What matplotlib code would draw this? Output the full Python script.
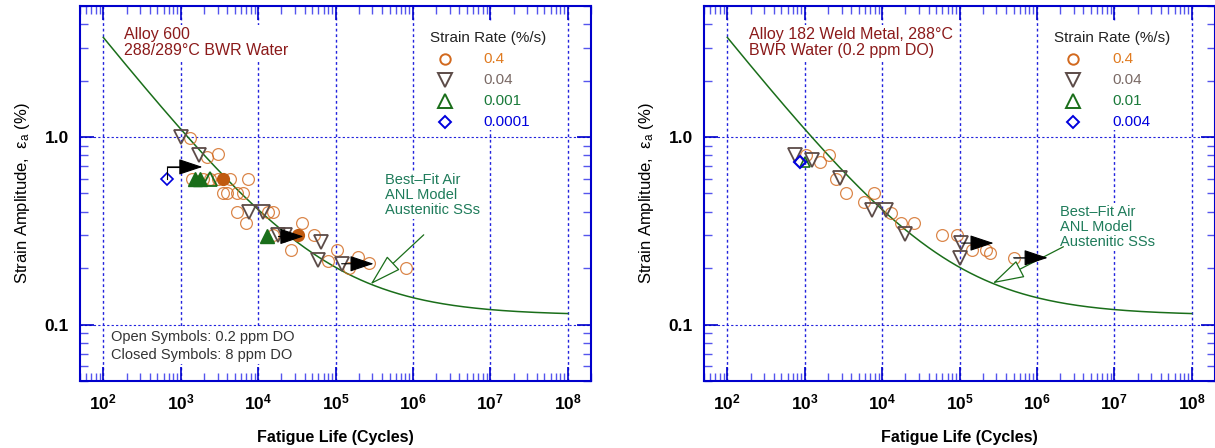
import numpy as np
import matplotlib
matplotlib.use("Agg")
import matplotlib.pyplot as plt
from matplotlib.patches import Rectangle
from matplotlib.ticker import FixedLocator, FixedFormatter, NullFormatter

plt.rcParams['font.family'] = ['Liberation Sans', 'DejaVu Sans']
plt.rcParams['mathtext.fontset'] = 'custom'
plt.rcParams['mathtext.rm'] = 'Liberation Sans'
plt.rcParams['mathtext.it'] = 'Liberation Sans:italic'
plt.rcParams['mathtext.bf'] = 'Liberation Sans:bold'

# --- ANL model, austenitic SSs in air: ln(N) = A - B ln(ea - C) ---
ANL_A, ANL_B, ANL_C = 6.891, 1.920, 0.112

# --- Alloy 600 (left panel) ---
a600_r04_open_N = [1334, 2213, 3076, 1416, 1967, 2422, 3076, 4395, 7300, 3567, 4018, 5410, 6470,
                   5410, 13600, 15360, 7080, 36400, 15800, 26300, 52100, 79000, 106000,
                   148000, 195000, 270000, 807000]
a600_r04_open_e = [0.99, 0.78, 0.81, 0.60, 0.60, 0.60, 0.60, 0.60, 0.60, 0.50, 0.50, 0.50, 0.50,
                   0.40, 0.40, 0.40, 0.35, 0.35, 0.30, 0.25, 0.30, 0.217, 0.25,
                   0.20, 0.23, 0.214, 0.20]
a600_r04_closed_N = [3470, 32400]
a600_r04_closed_e = [0.60, 0.30]
a600_r004_N = [1000, 1746, 7520, 11400, 18300, 22000, 64100, 60000, 120000]
a600_r004_e = [1.0, 0.80, 0.40, 0.40, 0.30, 0.30, 0.276, 0.222, 0.211]
a600_r0001_open_N = [2420]
a600_r0001_open_e = [0.60]
a600_r0001_closed_N = [1550, 1800, 13200]
a600_r0001_closed_e = [0.60, 0.60, 0.297]
a600_r00001_N = [673]
a600_r00001_e = [0.598]
# runouts: (start N, start e, tip N, tip e)
a600_runouts = [(673, 0.693, 1910, 0.693), (18300, 0.295, 38600, 0.295),
                (120000, 0.211, 311000, 0.211)]

# --- Alloy 182 weld metal (right panel) ---
a182_r04_N = [1050, 1590, 2030, 2500, 3370, 7750, 5920, 13200, 17300, 25500, 58600, 91800,
              144000, 218000, 246000, 500000]
a182_r04_e = [0.80, 0.74, 0.80, 0.60, 0.504, 0.50, 0.451, 0.394, 0.35, 0.35, 0.30, 0.30,
              0.25, 0.25, 0.24, 0.227]
a182_r004_N = [760, 1255, 2900, 7300, 11070, 19500, 106000, 100000]
a182_r004_e = [0.80, 0.75, 0.605, 0.41, 0.41, 0.305, 0.272, 0.227]
a182_r001_N = [1020]
a182_r001_e = [0.74]
a182_r0004_N = [880]
a182_r0004_e = [0.736]
a182_runouts = [(106000, 0.272, 276000, 0.272), (500000, 0.227, 1380000, 0.227)]

ORANGE = '#d2691e'
GREY = '#5c4b48'
GREEN = '#1a6e1a'
BLUE = '#0000dd'
DARKRED = '#8b1a1a'
TEAL = '#1e7b5a'
SPINE = '#0000cc'
CAJA = dict(fc='white', ec='none', pad=1.5)

fig = plt.figure(figsize=(12.15, 4.48), dpi=100)
W, H = 1215.0, 448.0
ax1 = fig.add_axes([80 / W, (H - 381) / H, 511 / W, 375 / H])
ax2 = fig.add_axes([704 / W, (H - 381) / H, 511 / W, 375 / H])


def estilo(ax):
    ax.set_xscale('log')
    ax.set_yscale('log')
    ax.set_xlim(50, 2e8)
    ax.set_ylim(0.05, 5)
    dec = [1e2, 1e3, 1e4, 1e5, 1e6, 1e7, 1e8]
    ax.xaxis.set_major_locator(FixedLocator(dec))
    ax.xaxis.set_major_formatter(FixedFormatter([r'$\mathbf{10^{%d}}$' % k for k in range(2, 9)]))
    xmin = [m * 10.0 ** k for k in range(1, 9) for m in range(2, 10)]
    xmin = [v for v in xmin if 50 <= v <= 2e8]
    ax.xaxis.set_minor_locator(FixedLocator(xmin))
    ax.xaxis.set_minor_formatter(NullFormatter())
    ax.yaxis.set_major_locator(FixedLocator([0.1, 1.0]))
    ax.yaxis.set_major_formatter(FixedFormatter(['0.1', '1.0']))
    ymin = [m * 10.0 ** k for k in range(-2, 1) for m in range(2, 10)]
    ymin = [v for v in ymin if 0.05 <= v <= 5]
    ax.yaxis.set_minor_locator(FixedLocator(ymin))
    ax.yaxis.set_minor_formatter(NullFormatter())
    ax.tick_params(which='both', direction='in', top=True, right=True, colors=SPINE,
                   labelcolor='black')
    ax.tick_params(which='major', length=10, width=1.2, labelsize=12.5, pad=8)
    ax.tick_params(which='minor', length=6, width=1.0, color='#5555ee')
    for lab in ax.get_yticklabels():
        lab.set_fontweight('bold')
    for s in ax.spines.values():
        s.set_color(SPINE)
        s.set_linewidth(1.5)
    for d in dec:
        ax.axvline(d, color='#2222dd', lw=1.0, ls=(0, (2, 2)), zorder=0)
    for d in [0.1, 1.0]:
        ax.axhline(d, color='#2222dd', lw=0.8, ls=(0, (2, 2)), zorder=0)
    ax.set_xlabel('Fatigue Life (Cycles)', fontsize=11.5, fontweight='bold', labelpad=13)
    ax.set_ylabel('Strain Amplitude,  \u03b5$_\\mathrm{a}$ (%)', fontsize=12, labelpad=9)
    # best-fit curve
    N = np.logspace(2, 8, 400)
    ea = ANL_C + np.exp((ANL_A - np.log(N)) / ANL_B)
    ax.plot(N, ea, color=GREEN, lw=1.1, zorder=2)


def runout(ax, r):
    n0, e0, n1, e1 = r
    ax.annotate('', xy=(n1, e1), xytext=(n0, e0),
                arrowprops=dict(arrowstyle='-|>,head_length=1.5,head_width=0.5',
                                mutation_scale=10, color='black', lw=0.8,
                                shrinkA=0, shrinkB=0), zorder=5)


def leyenda(ax, x0, xm, xt, labels):
    ax.add_patch(Rectangle((0.665, 0.67), 0.28, 0.29, transform=ax.transAxes, fc='white',
                           ec='none', zorder=1))
    ax.text(x0, 0.915, 'Strain Rate (%/s)', transform=ax.transAxes, fontsize=11,
            va='center', ha='left', color='#222222', zorder=6)
    ys = [0.859, 0.803, 0.747, 0.691]
    marks = [('o', ORANGE, 7.5), ('v', GREY, 9.5), ('^', GREEN, 9.5), ('D', BLUE, 6.5)]
    tcol = ['#e07b20', '#7a6a66', '#1a7a3a', BLUE]
    for y, (m, c, s), lab, tc in zip(ys, marks, labels, tcol):
        ax.plot([xm], [y], marker=m, mfc='none', mec=c, ms=s, mew=1.4, transform=ax.transAxes,
                zorder=6)
        ax.text(xt, y, lab, transform=ax.transAxes, fontsize=11, va='center', ha='left',
                color=tc, zorder=6)


def anotacion(ax, tx, ty, tail, tip):
    ax.text(tx, ty, 'Best\u2013Fit Air\nANL Model\nAustenitic SSs', transform=ax.transAxes,
            fontsize=10.5, color=TEAL, va='top', ha='left', linespacing=1.1, bbox=CAJA,
            zorder=1)
    ax.annotate('', xy=tip, xytext=tail,
                arrowprops=dict(arrowstyle='-|>,head_length=1.7,head_width=0.5',
                                mutation_scale=12, fc='white', ec=GREEN, lw=0.9,
                                shrinkA=0, shrinkB=0), zorder=4)


circ = dict(marker='o', ls='none', ms=8.5, mfc='none', mec=ORANGE, mew=0.9, alpha=0.8, zorder=3)
tri_d = dict(marker='v', ls='none', ms=10, mfc='none', mec=GREY, mew=1.3, zorder=4)

# left panel
estilo(ax1)
ax1.plot(a600_r04_open_N, a600_r04_open_e, **circ)
ax1.plot(a600_r04_closed_N, a600_r04_closed_e, marker='o', ls='none', ms=8.5, mfc='#c05a10',
         mec='#c05a10', zorder=3)
ax1.plot(a600_r004_N, a600_r004_e, **tri_d)
ax1.plot(a600_r0001_open_N, a600_r0001_open_e, marker='^', ls='none', ms=9.5, mfc='none',
         mec=GREEN, mew=1.3, zorder=4)
ax1.plot(a600_r0001_closed_N, a600_r0001_closed_e, marker='^', ls='none', ms=9.5, mfc=GREEN,
         mec=GREEN, zorder=4)
ax1.plot(a600_r00001_N, a600_r00001_e, marker='D', ls='none', ms=6.5, mfc='none', mec=BLUE,
         mew=1.2, zorder=4)
ax1.plot([673, 673, 1000], [0.598, 0.693, 0.693], color='black', lw=0.8, zorder=4)
for r in a600_runouts:
    runout(ax1, r)
ax1.text(0.086, 0.945, 'Alloy 600\n288/289\u00b0C BWR Water', transform=ax1.transAxes,
         fontsize=11.5, color=DARKRED, va='top', ha='left', linespacing=1.1, bbox=CAJA,
         zorder=1)
ax1.text(0.061, 0.117, 'Open Symbols: 0.2 ppm DO', transform=ax1.transAxes, fontsize=10.5,
         color='#333333', va='center', bbox=CAJA, zorder=1)
ax1.text(0.061, 0.069, 'Closed Symbols: 8 ppm DO', transform=ax1.transAxes, fontsize=10.5,
         color='#333333', va='center', bbox=CAJA, zorder=1)
leyenda(ax1, 0.685, 0.714, 0.789, ['0.4', '0.04', '0.001', '0.0001'])
anotacion(ax1, 0.597, 0.555, (1.38e6, 0.301), (284000, 0.164))

# right panel
estilo(ax2)
ax2.plot(a182_r04_N, a182_r04_e, **circ)
ax2.plot(a182_r004_N, a182_r004_e, **tri_d)
ax2.plot(a182_r001_N, a182_r001_e, marker='^', ls='none', ms=7, mfc='none', mec=GREEN,
         mew=1.2, zorder=4)
ax2.plot(a182_r0004_N, a182_r0004_e, marker='D', ls='none', ms=6, mfc='none', mec=BLUE,
         mew=1.5, zorder=4)
ax2.plot([500000, 800000], [0.227, 0.227], color='#999999', lw=0.8, zorder=4)
for r in a182_runouts:
    runout(ax2, r)
ax2.text(0.088, 0.945, 'Alloy 182 Weld Metal, 288\u00b0C\nBWR Water (0.2 ppm DO)',
         transform=ax2.transAxes, fontsize=11.5, color=DARKRED, va='top', ha='left',
         linespacing=1.1, bbox=CAJA, zorder=1)
leyenda(ax2, 0.685, 0.722, 0.800, ['0.4', '0.04', '0.01', '0.004'])
anotacion(ax2, 0.697, 0.470, (2.2e6, 0.26), (268000, 0.166))

fig.savefig('out.png', dpi=100)
